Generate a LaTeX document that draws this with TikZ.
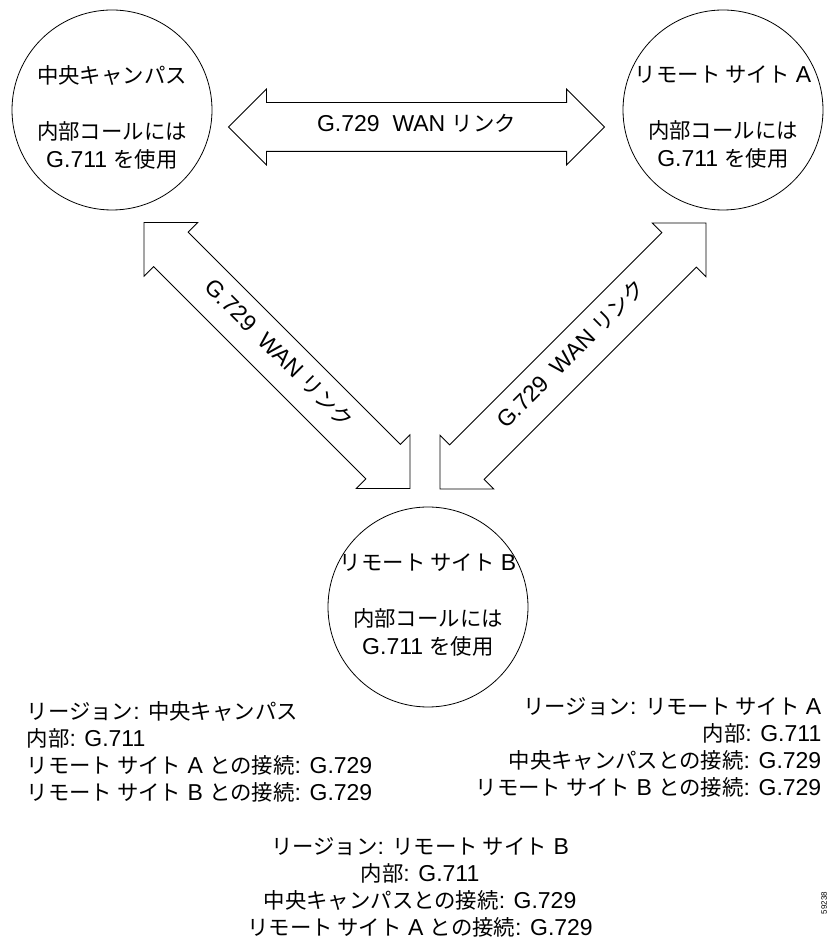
\documentclass[tikz,border=0pt]{standalone}
\usepackage{fontspec}
\setmainfont{Liberation Sans}
\newfontfamily\jpfont[Scale=0.93]{Noto Sans CJK JP}
\newcommand{\jp}[1]{{\jpfont #1}}
\usetikzlibrary{shapes.arrows}

\begin{document}
\begin{tikzpicture}[x=1pt,y=1pt,line width=0.8pt,
        site/.style={circle,draw,minimum size=200pt,inner sep=0pt},
        sitetext/.style={align=center,font=\fontsize{23}{28}\selectfont},
        wan/.style={double arrow,draw,minimum height=376pt,minimum width=75pt,
            double arrow head extend=13.5pt,inner xsep=0pt,inner ysep=14pt,
            text height=15pt,text depth=5pt,font=\fontsize{23}{25}\selectfont},
        region/.style={align=#1,font=\fontsize{23}{27}\selectfont}]
    \useasboundingbox (0,0) rectangle (829,938);
    % the three sites
    \node[site] (campus) at (112,828) {};
    \node[site] (siteA) at (723,828) {};
    \node[site] (siteB) at (428,331) {};
    \node[sitetext] (campustext) at (112,821)
        {\jp{中央キャンパス}\\[28pt]\jp{内部コールには}\\G.711 \jp{を使用}};
    \node[sitetext] (siteAtext) at (723,821)
        {\jp{リモート サイト} A\\[28pt]\jp{内部コールには}\\G.711 \jp{を使用}};
    \node[sitetext] (siteBtext) at (428,333)
        {\jp{リモート サイト} B\\[28pt]\jp{内部コールには}\\G.711 \jp{を使用}};
    % WAN links
    \node[wan] (linkA) at (416.5,811) {G.729\ \ WAN \jp{リンク}};
    \node[wan,rotate=-45] (linkB) at (277,582.5) {G.729\ \ WAN \jp{リンク}};
    \node[wan,rotate=45] (linkAB) at (573,582) {G.729\ \ WAN \jp{リンク}};
    % regions
    \node[region=left,anchor=west] (campusreg) at (23,186.5)
        {\jp{リージョン}: \jp{中央キャンパス}\\
         \jp{内部}: G.711\\
         \jp{リモート サイト} A \jp{との接続}: G.729\\
         \jp{リモート サイト} B \jp{との接続}: G.729};
    \node[region=right,anchor=east] (siteAreg) at (825,190.5)
        {\jp{リージョン}: \jp{リモート サイト} A\\
         \jp{内部}: G.711\\
         \jp{中央キャンパスとの接続}: G.729\\
         \jp{リモート サイト} B \jp{との接続}: G.729};
    \node[region=center] (siteBreg) at (420,51)
        {\jp{リージョン}: \jp{リモート サイト} B\\
         \jp{内部}: G.711\\
         \jp{中央キャンパスとの接続}: G.729\\
         \jp{リモート サイト} A \jp{との接続}: G.729};
    \node[rotate=90,font=\fontsize{8}{8}\selectfont] (fignum) at (824,35) {59238};
\end{tikzpicture}
\end{document}
